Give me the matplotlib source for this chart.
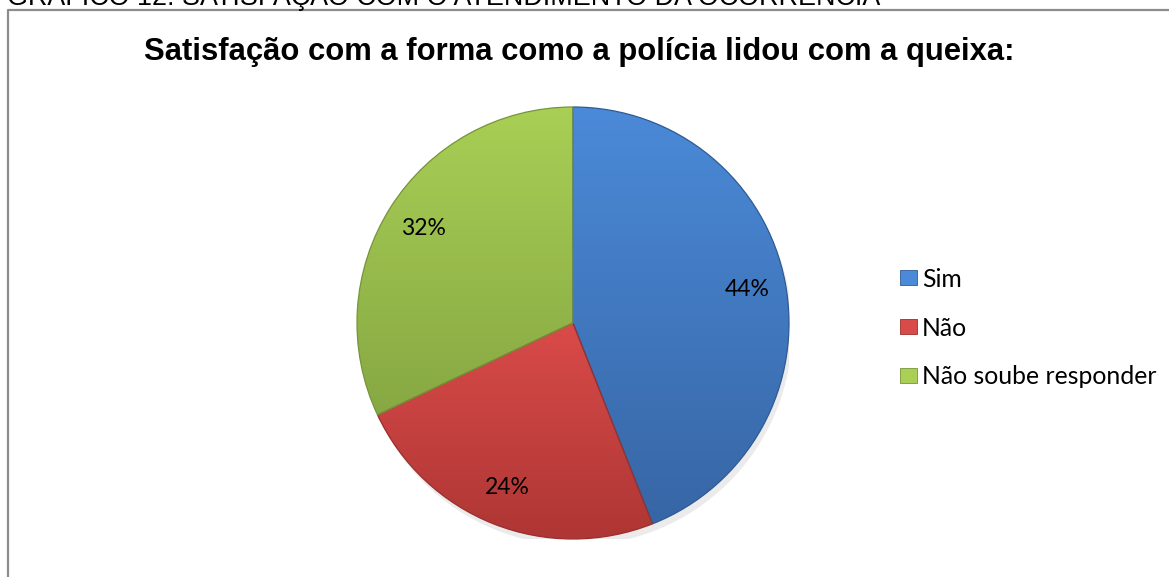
import numpy as np
import matplotlib.pyplot as plt
from matplotlib.colors import LinearSegmentedColormap
from matplotlib.patches import Patch
from matplotlib.lines import Line2D

# survey answers
labels = ["Sim", "Não", "Não soube responder"]
shares = [44, 24, 32]
caption = "GRÁFICO 12: SATISFAÇÃO COM O ATENDIMENTO DA OCORRÊNCIA"
title = "Satisfação com a forma como a polícia lidou com a queixa:"

# top / bottom shade of each slice
tops = ["#4b8ad8", "#d94b49", "#a9cf55"]
bottoms = ["#3766a5", "#ae3634", "#87a843"]
edges = ["#2f5a94", "#9a2f2d", "#76943a"]

W, H = 1169, 577
fig = plt.figure(figsize=(W / 100, H / 100), dpi=100)
fig.patch.set_facecolor("white")

# figure caption, clipped by the top edge
fig.text(7 / W, 1 - 5 / H, caption, fontsize=19.4, family="Liberation Sans",
         va="baseline", ha="left", color="black")

# chart frame (left and top sides visible)
fig.add_artist(Line2D([8 / W, 8 / W, 1.0], [0.0, 1 - 10 / H, 1 - 10 / H],
                      transform=fig.transFigure, color="#8c8c8c", lw=1.6))

fig.text(579 / W, 1 - 52 / H, title, fontsize=22.3, fontweight="bold",
         family="Liberation Sans", ha="center", va="center")

cx, cy, r = 573, 323, 216
ax = fig.add_axes([(cx - r) / W, (H - cy - r) / H, 2 * r / W, 2 * r / H])

# soft shadow under the pie
shadow = plt.Circle((0.015, -0.03), 1.0, color="#000000", alpha=0.08, lw=0)
ax.add_patch(shadow)

wedges, _, pct = ax.pie(shares, startangle=90, counterclock=False, radius=1.0,
                        colors=tops, autopct="%d%%", pctdistance=0.82,
                        wedgeprops=dict(linewidth=0.9),
                        textprops=dict(fontsize=16.5, family="Lato", color="black"))

grad = np.linspace(0, 1, 256).reshape(-1, 1)
for w, top, bot, ec in zip(wedges, tops, bottoms, edges):
    w.set_edgecolor(ec)
    cmap = LinearSegmentedColormap.from_list("shade", [top, bot])
    x0, y0, x1, y1 = w.get_path().get_extents(w.get_patch_transform()).bounds
    im = ax.imshow(grad, cmap=cmap, aspect="auto", origin="upper",
                   extent=[x0, x0 + x1, y0, y0 + y1], zorder=w.get_zorder())
    im.set_clip_path(w)
    w.set_facecolor("none")
    w.set_zorder(im.get_zorder() + 0.1)

for t in pct:
    t.set_zorder(5)

ax.set_xlim(-1.0, 1.0)
ax.set_ylim(-1.0, 1.0)
ax.set_aspect("equal")
ax.axis("off")

handles = [Patch(facecolor=c, edgecolor=e, lw=0.6) for c, e in zip(tops, edges)]
fig.legend(handles, labels, loc="center left",
           bbox_to_anchor=(900 / W, 1 - 328 / H), frameon=False,
           prop=dict(family="Lato", size=17.8), handlelength=0.69,
           handleheight=0.57, handletextpad=0.2, labelspacing=1.05,
           borderpad=0, borderaxespad=0)

fig.savefig("out.png", dpi=100)
